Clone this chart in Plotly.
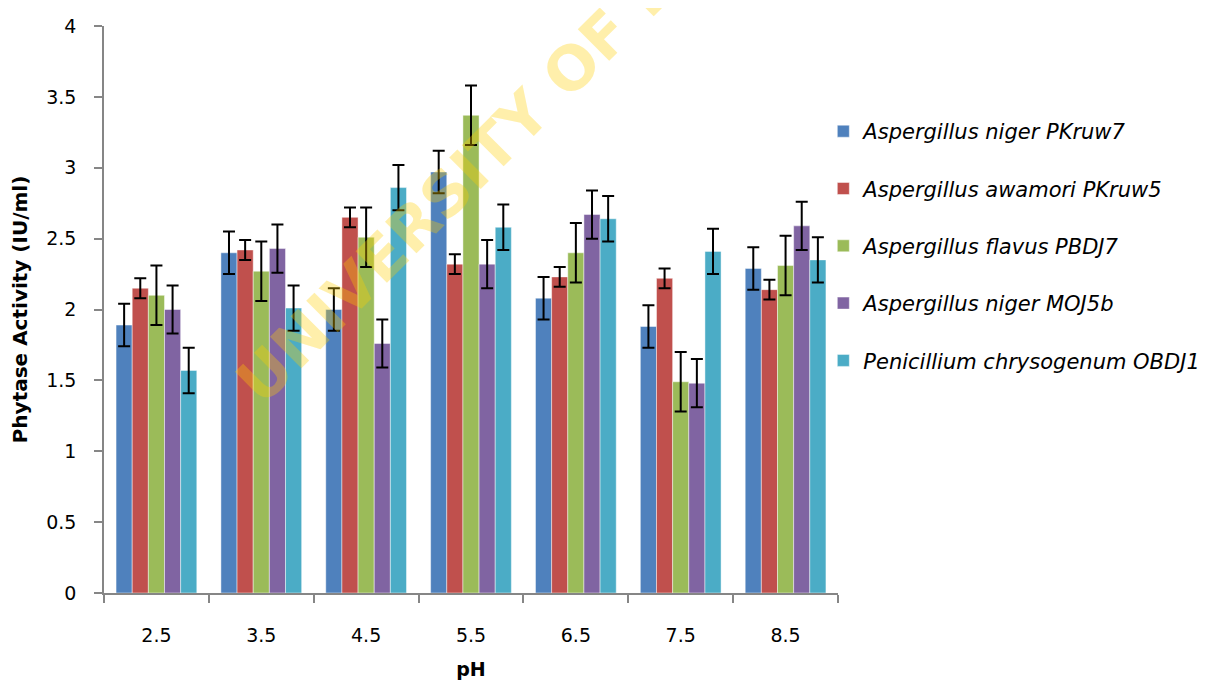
import plotly.graph_objects as go

ph_labels = ["2.5", "3.5", "4.5", "5.5", "6.5", "7.5", "8.5"]

series_names = [
    "Aspergillus niger PKruw7",
    "Aspergillus awamori PKruw5",
    "Aspergillus flavus PBDJ7",
    "Aspergillus niger MOJ5b",
    "Penicillium chrysogenum OBDJ1",
]

niger_pkruw7 = [1.89, 2.40, 2.00, 2.97, 2.08, 1.88, 2.29]
niger_pkruw7_err = [0.15, 0.15, 0.15, 0.15, 0.15, 0.15, 0.15]

awamori_pkruw5 = [2.15, 2.42, 2.65, 2.32, 2.23, 2.22, 2.14]
awamori_pkruw5_err = [0.07, 0.07, 0.07, 0.07, 0.07, 0.07, 0.07]

flavus_pbdj7 = [2.10, 2.27, 2.51, 3.37, 2.40, 1.49, 2.31]
flavus_pbdj7_err = [0.21, 0.21, 0.21, 0.21, 0.21, 0.21, 0.21]

niger_moj5b = [2.00, 2.43, 1.76, 2.32, 2.67, 1.48, 2.59]
niger_moj5b_err = [0.17, 0.17, 0.17, 0.17, 0.17, 0.17, 0.17]

penicillium_obdj1 = [1.57, 2.01, 2.86, 2.58, 2.64, 2.41, 2.35]
penicillium_obdj1_err = [0.16, 0.16, 0.16, 0.16, 0.16, 0.16, 0.16]

values = [niger_pkruw7, awamori_pkruw5, flavus_pbdj7, niger_moj5b, penicillium_obdj1]
errors = [niger_pkruw7_err, awamori_pkruw5_err, flavus_pbdj7_err, niger_moj5b_err, penicillium_obdj1_err]
colors = ["#4F81BD", "#C0504D", "#9BBB59", "#8064A2", "#4BACC6"]

FONT = "DejaVu Sans"

fig = go.Figure()
for i, (name, vals, errs, col) in enumerate(zip(series_names, values, errors, colors)):
    fig.add_trace(go.Bar(
        x=ph_labels, y=vals, name=name,
        legendgroup=f"g{i}",
        marker=dict(color=col, line=dict(color="rgba(255,255,255,0.45)", width=1)),
        error_y=dict(type="data", array=errs, visible=True,
                     color="black", thickness=2, width=6),
    ))

fig.add_annotation(
    text="<b>UNIVERSITY OF IBADAN</b>",
    xref="paper", yref="paper", x=0.587, y=0.862,
    xanchor="center", yanchor="middle",
    textangle=-45, showarrow=False,
    font=dict(family=FONT, size=61, color="rgba(255,205,0,0.33)"),
)

fig.update_layout(
    width=1201, height=673,
    margin=dict(l=96, r=371, t=18, b=88, autoexpand=False),
    paper_bgcolor="white", plot_bgcolor="white",
    barmode="group", bargap=0.23, bargroupgap=0,
    font=dict(family=FONT, color="black"),
    showlegend=True,
    legend=dict(
        x=0.98, xanchor="left", y=0.85, yanchor="top",
        font=dict(family=FONT, size=21, color="black", style="italic"),
        tracegroupgap=27, bgcolor="rgba(0,0,0,0)",
    ),
    xaxis=dict(
        type="category",
        showline=True, linecolor="#868686", linewidth=1.5,
        ticks="outside", tickson="boundaries", ticklen=8, tickcolor="#868686", tickwidth=1.5,
        tickfont=dict(family=FONT, size=19),
        ticklabelstandoff=24,
        title=dict(text="<b>pH</b>", font=dict(family=FONT, size=19), standoff=18),
        showgrid=False,
    ),
    yaxis=dict(
        range=[0, 4], dtick=0.5,
        showline=True, linecolor="#868686", linewidth=1.5,
        ticks="outside", ticklen=8, tickcolor="#868686", tickwidth=1.5,
        tickfont=dict(family=FONT, size=19),
        ticklabelstandoff=14,
        title=dict(text="<b>Phytase Activity (IU/ml)</b>", font=dict(family=FONT, size=20), standoff=15),
        showgrid=False, zeroline=False,
    ),
)

fig.write_html("out.html")
